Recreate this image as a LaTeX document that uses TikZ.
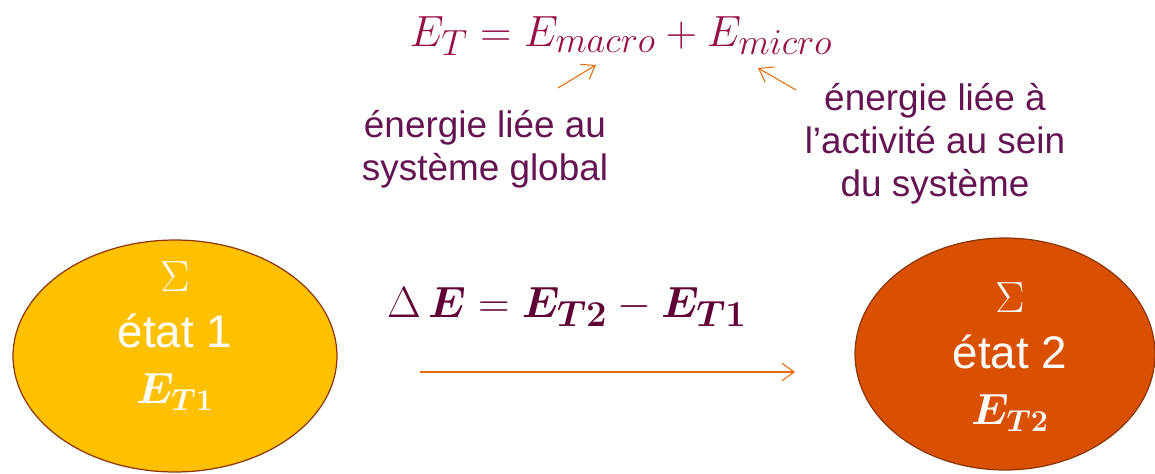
\documentclass[tikz,border=0pt]{standalone}
\usepackage{amsmath}
\usepackage{fontspec}
\setmainfont{Liberation Sans}
\usetikzlibrary{arrows.meta,shapes.geometric}
\definecolor{eqred}{RGB}{150,15,70}
\definecolor{eqdark}{RGB}{95,0,55}
\definecolor{txtpurple}{RGB}{100,20,80}
\definecolor{arrorange}{RGB}{228,108,10}
\definecolor{etatjaune}{RGB}{255,192,0}
\definecolor{etatrouge}{RGB}{217,80,0}
\definecolor{bordbrun}{RGB}{140,55,10}
\begin{document}
\begin{tikzpicture}[x=0.02cm,y=-0.02cm,
    etat/.style={ellipse,draw=bordbrun,line width=0.7pt,minimum width=6.48cm,minimum height=4.64cm},
    etattxt/.style={text=white,align=center,font=\fontsize{26}{32}\selectfont},
    label/.style={text=txtpurple,align=center,font=\fontsize{21}{24.5}\selectfont},
    fleche/.style={draw=arrorange,line width=0.6pt,-{Straight Barb[length=7pt,width=10pt]}}]
    \useasboundingbox (0,0) rectangle (1155,473);
    % equations
    \node[text=eqred,font=\fontsize{32}{36}\selectfont] (eqT) at (621,36) {$E_T = E_{macro} + E_{micro}$};
    \node[text=eqdark,font=\fontsize{31}{36}\selectfont] (eqD) at (567,307) {$\Delta\,\boldsymbol{E} = \boldsymbol{E_{T2}} - \boldsymbol{E_{T1}}$};
    % labels
    \node[label] (macro) at (485,149) {énergie liée au\\système global};
    \node[label] (micro) at (935,144) {énergie liée à\\l’activité au sein\\du système};
    % etats
    \node[etat,fill=etatjaune] (s1) at (175,356) {};
    \node[etat,fill=etatrouge,minimum width=6.0cm] (s2) at (1005,354) {};
    \node[etattxt] (t1) at (175,336) {$\Sigma$\\état 1\\$\boldsymbol{E_{T1}}$};
    \node[etattxt] (t2) at (1010,357) {$\Sigma$\\état 2\\$\boldsymbol{E_{T2}}$};
    % arrows
    \coordinate (a0) at (420,372);\coordinate (a1) at (795,372);
    \coordinate (m0) at (558,88);\coordinate (m1) at (596,65);
    \coordinate (n0) at (796,90);\coordinate (n1) at (758,68);
    \draw[fleche](a0) -- (a1);
    \draw[fleche](m0) -- (m1);\draw[fleche](n0) -- (n1);
\end{tikzpicture}
\end{document}
